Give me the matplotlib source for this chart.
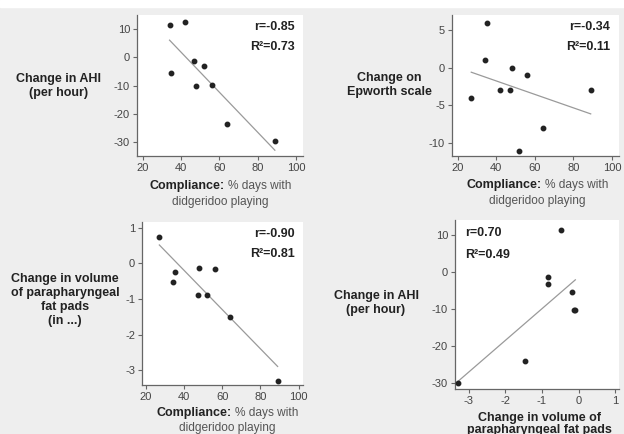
import numpy as np
import matplotlib
matplotlib.use('Agg')
import matplotlib.pyplot as plt
from matplotlib.patches import Rectangle

plt.rcParams['font.family'] = ['Liberation Sans', 'DejaVu Sans']
plt.rcParams['axes.unicode_minus'] = False

# compliance (% days) vs change in AHI
comp_ahi = [34, 42, 35, 47, 52, 48, 56, 64, 89]
ahi = [11.5, 12.5, -5.4, -1.3, -3.1, -10.2, -9.9, -23.7, -29.8]

# compliance vs change on Epworth scale
comp_ess = [27, 34, 35, 42, 47, 48, 52, 56, 64, 89]
ess = [-4, 1, 6, -3, -3, 0, -11, -1, -8, -3]

# compliance vs change in fat pad volume
comp_fat = [27, 34, 35, 47, 48, 52, 56, 64, 89]
fat = [0.74, -0.51, -0.24, -0.89, -0.12, -0.89, -0.15, -1.49, -3.29]

# fat pad volume vs AHI
fat4 = [-3.30, -1.46, -0.84, -0.84, -0.47, -0.18, -0.09, -0.12]
ahi4 = [-29.9, -24.0, -1.4, -3.2, 11.5, -5.4, -10.1, -10.2]

W, H = 624, 434
fig = plt.figure(figsize=(W / 100, H / 100), dpi=100, facecolor='#eeeeee')
fig.patches.append(Rectangle((0, 1 - 7 / H), 1, 7 / H, transform=fig.transFigure,
                             color='white', zorder=0))

def px_axes(l, r, t, b):
    return fig.add_axes([l / W, 1 - b / H, (r - l) / W, (b - t) / H])

def style(ax, xlim, ylim, xt, yt):
    ax.set_facecolor('white')
    ax.set_xlim(*xlim)
    ax.set_ylim(*ylim)
    ax.set_xticks(xt)
    ax.set_yticks(yt)
    for s in ['top', 'right']:
        ax.spines[s].set_visible(False)
    for s in ['left', 'bottom']:
        ax.spines[s].set_color('#666666')
        ax.spines[s].set_linewidth(0.9)
    ax.tick_params(direction='out', length=3, width=0.8, color='#666666',
                   labelsize=8, labelcolor='#444444', pad=2)

def scatter_fit(ax, x, y):
    x = np.array(x)
    y = np.array(y)
    k, c = np.polyfit(x, y, 1)
    xs = np.array([x.min(), x.max()])
    ax.plot(xs, k * xs + c, color='#9a9a9a', lw=0.9, zorder=2)
    ax.plot(x, y, 'o', color='#222222', ms=3.2, zorder=3)

def fig_text(x, y, s, **kw):
    fig.text(x / W, 1 - y / H, s, **kw)

def compliance_label(split, cx2, y1, y2):
    fig_text(split, y1, 'Compliance:', ha='right', va='center', fontsize=9,
             fontweight='bold', color='#222222')
    fig_text(split + 3, y1, '% days with', ha='left', va='center', fontsize=8.6,
             color='#555555')
    fig_text(cx2, y2, 'didgeridoo playing', ha='center', va='center', fontsize=8.6,
             color='#555555')

lab = dict(ha='center', va='center', fontsize=9, fontweight='bold',
           color='#222222', linespacing=1.2)
stat = dict(fontsize=9, fontweight='bold', color='#222222', va='center')

# panel 1
ax1 = px_axes(137, 303, 15, 156)
style(ax1, (17, 103.7), (-35.1, 15.1), [20, 40, 60, 80, 100], [10, 0, -10, -20, -30])
scatter_fit(ax1, comp_ahi, ahi)
fig_text(59, 86, 'Change in AHI\n(per hour)', **lab)
fig_text(295, 27, 'r=-0.85', ha='right', **stat)
fig_text(295, 47, 'R²=0.73', ha='right', **stat)
compliance_label(225, 220, 186, 202)

# panel 2
ax2 = px_axes(452, 619, 15, 156)
style(ax2, (17, 103.7), (-11.73, 7.0), [20, 40, 60, 80, 100], [5, 0, -5, -10])
scatter_fit(ax2, comp_ess, ess)
fig_text(389, 85, 'Change on\nEpworth scale', **lab)
fig_text(610, 27, 'r=-0.34', ha='right', **stat)
fig_text(610, 47, 'R²=0.11', ha='right', **stat)
compliance_label(542, 537, 185, 201)

# panel 3
ax3 = px_axes(142, 303, 222, 385)
style(ax3, (17.9, 102.3), (-3.41, 1.16), [20, 40, 60, 80, 100], [1, 0, -1, -2, -3])
scatter_fit(ax3, comp_fat, fat)
fig_text(65, 300, 'Change in volume\nof parapharyngeal\nfat pads\n(in ...)', **lab)
fig_text(295, 234, 'r=-0.90', ha='right', **stat)
fig_text(295, 254, 'R²=0.81', ha='right', **stat)
compliance_label(232, 227, 413, 428)

# panel 4
ax4 = px_axes(455, 619, 220, 389)
style(ax4, (-3.37, 1.1), (-31.5, 14.1), [-3, -2, -1, 0, 1], [10, 0, -10, -20, -30])
scatter_fit(ax4, fat4, ahi4)
fig_text(376, 303, 'Change in AHI\n(per hour)', **lab)
fig_text(465, 233, 'r=0.70', ha='left', **stat)
fig_text(465, 255, 'R²=0.49', ha='left', **stat)
fig_text(539, 424, 'Change in volume of\nparapharyngeal fat pads', **dict(lab, linespacing=1.1))

fig.savefig('out.png', dpi=100, facecolor=fig.get_facecolor())
